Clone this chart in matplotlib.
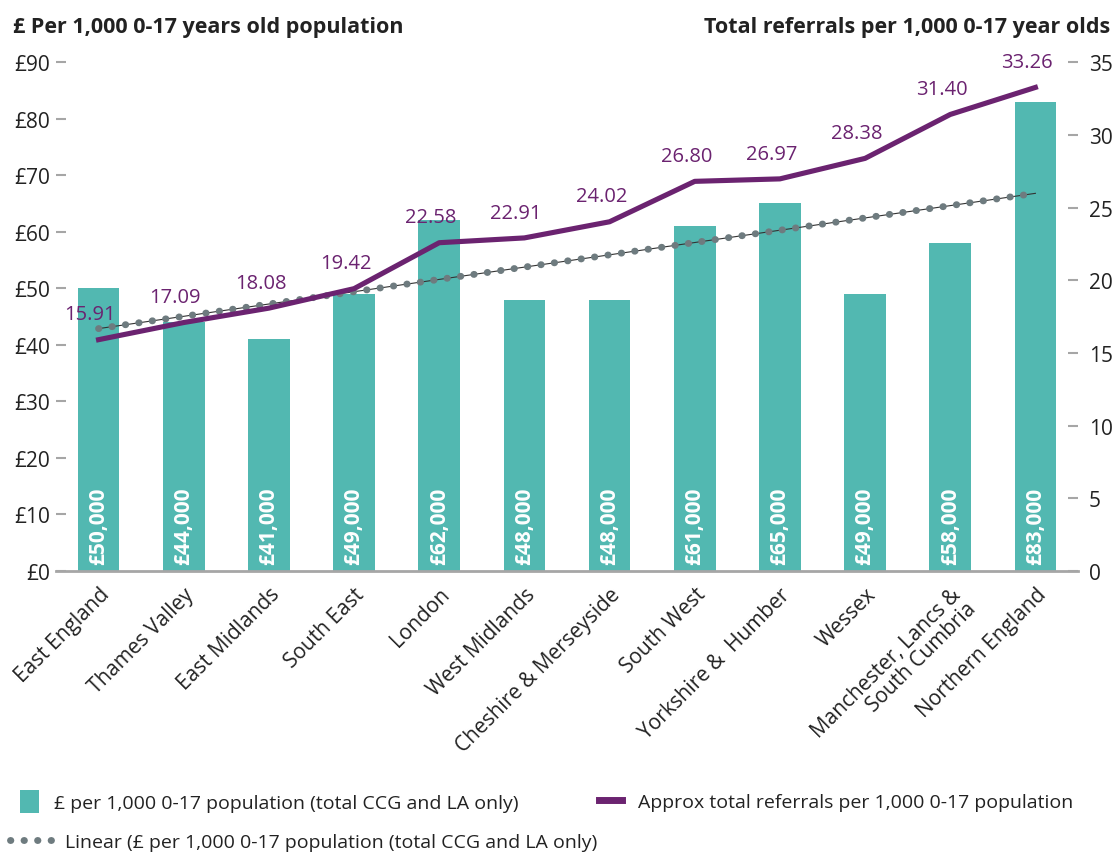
import numpy as np
import matplotlib.pyplot as plt

plt.rcParams['font.family'] = ['Open Sans', 'DejaVu Sans']

regions = ['East England', 'Thames Valley', 'East Midlands', 'South East', 'London',
           'West Midlands', 'Cheshire & Merseyside', 'South West', 'Yorkshire &  Humber',
           'Wessex', 'Manchester, Lancs &\nSouth Cumbria', 'Northern England']
spend = [50000, 44000, 41000, 49000, 62000, 48000, 48000, 61000, 65000, 49000, 58000, 83000]
referrals = [15.91, 17.09, 18.08, 19.42, 22.58, 22.91, 24.02, 26.80, 26.97, 28.38, 31.40, 33.26]

teal = '#52b8b1'
purple = '#6b2370'
grey = '#6e7b7f'
tick_grey = '#a6a6a6'
text_col = '#222222'

x = np.arange(len(regions))
spend_k = np.array(spend) / 1000

fig = plt.figure(figsize=(11.15, 8.53), dpi=100)
ax = fig.add_axes([0.0502, 0.3294, 0.9166, 0.5966])
ax2 = ax.twinx()

bars = ax.bar(x, spend_k, width=0.49, color=teal, zorder=2)
for xi, v in zip(x, spend):
    ax.text(xi, 1.2, f'£{v:,}', rotation=90, ha='center', va='bottom',
            color='white', fontsize=15, fontweight='bold', zorder=3)

# linear trend of the spend bars
k, b = np.polyfit(x, spend_k, 1)
trend = k * x + b
dots = (0, (0.05, 1.9))
ax.plot(x, trend, color='#333333', lw=0.8, zorder=3)
ax.plot(x, trend, color=grey, lw=5, linestyle=dots, dash_capstyle='round', zorder=3)

line, = ax2.plot(x, referrals, color=purple, lw=3.7, zorder=4)
for xi, v in zip(x, referrals):
    ax2.annotate(f'{v:.2f}', (xi, v), xytext=(-6, 11), textcoords='offset points',
                 ha='center', va='bottom', color=purple, fontsize=14.5)

ax.set_xlim(-0.5, 11.5)
ax.set_ylim(0, 90)
ax2.set_ylim(0, 35)
ax.set_yticks(range(0, 100, 10))
ax.set_yticklabels([f'£{v}' for v in range(0, 100, 10)])
ax2.set_yticks(range(0, 40, 5))

for a in (ax, ax2):
    for s in a.spines.values():
        s.set_visible(False)
ax.spines['bottom'].set_visible(True)
ax.spines['bottom'].set_color(tick_grey)
ax.spines['bottom'].set_linewidth(2)

ax.tick_params(axis='y', direction='in', length=7, width=1.5, color=tick_grey,
               labelsize=15, labelcolor=text_col, pad=4)
ax2.tick_params(axis='y', direction='in', length=7, width=1.5, color=tick_grey,
                labelsize=15, labelcolor=text_col, pad=8)
ax.tick_params(axis='x', length=0, pad=9)
ax.set_xticks(x)
ax.set_xticklabels(regions, rotation=45, ha='right', rotation_mode='anchor',
                   fontsize=15, color=text_col, linespacing=1.0)

fig.text(0.012, 0.968, '£ Per 1,000 0-17 years old population', fontsize=15.5,
         fontweight='bold', color=text_col, va='center')
fig.text(0.996, 0.968, 'Total referrals per 1,000 0-17 year olds', fontsize=15.5,
         fontweight='bold', color=text_col, va='center', ha='right')

# legend: three entries placed separately
leg_kw = dict(frameon=False, fontsize=14, labelcolor=text_col,
              borderpad=0, borderaxespad=0)
fig.legend([bars], ['£ per 1,000 0-17 population (total CCG and LA only)'],
           loc='center left', bbox_to_anchor=(0.018, 0.059),
           handlelength=0.95, handleheight=1.45, handletextpad=0.8, **leg_kw)
fig.legend([plt.Line2D([], [], color=grey, lw=5, linestyle=dots, dash_capstyle='round')],
           ['Linear (£ per 1,000 0-17 population (total CCG and LA only)'],
           loc='center left', bbox_to_anchor=(0.009, 0.012),
           handlelength=2.3, handletextpad=0.55, **leg_kw)
fig.legend([plt.Line2D([], [], color=purple, lw=5)],
           ['Approx total referrals per 1,000 0-17 population'],
           loc='center left', bbox_to_anchor=(0.537, 0.059),
           handlelength=1.2, handletextpad=0.8, **leg_kw)

fig.savefig('out.png', dpi=100)
